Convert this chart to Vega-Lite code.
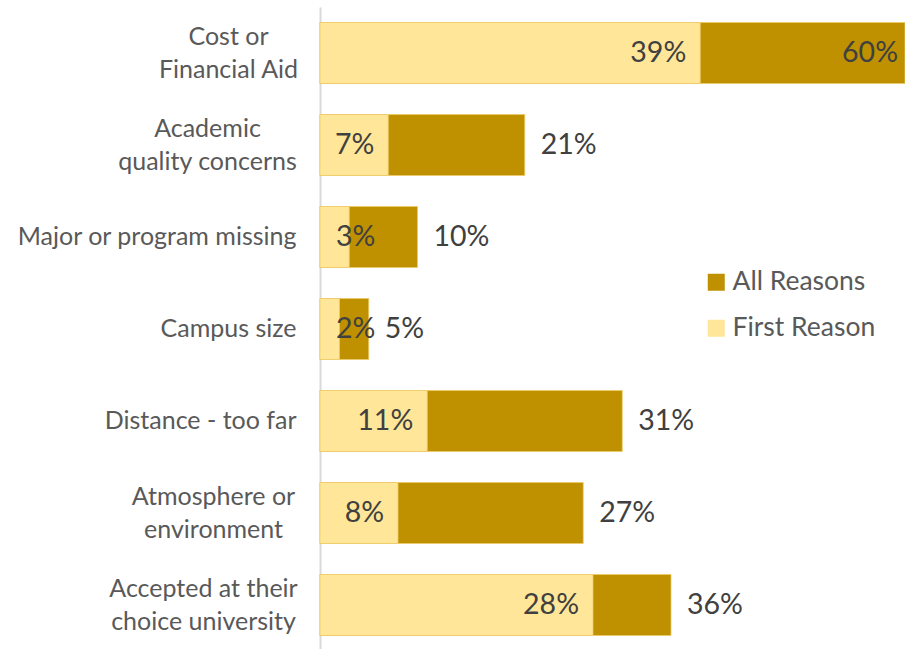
{
  "$schema": "https://vega.github.io/schema/vega-lite/v6.json",
  "width": 585,
  "height": 644,
  "autosize": {"type": "none"},
  "padding": {"left": 320, "top": 7, "right": 0, "bottom": 0},
  "background": "white",
  "config": {"view": {"stroke": null}, "font": "Lato"},
  "data": {
    "values": [
      {"category": "Cost or|Financial Aid", "series": "All Reasons", "value": 0.60},
      {"category": "Academic|quality concerns", "series": "All Reasons", "value": 0.21},
      {"category": "Major or program missing", "series": "All Reasons", "value": 0.10},
      {"category": "Campus size", "series": "All Reasons", "value": 0.05},
      {"category": "Distance - too far", "series": "All Reasons", "value": 0.31},
      {"category": "Atmosphere or|environment", "series": "All Reasons", "value": 0.27},
      {"category": "Accepted at their|choice university", "series": "All Reasons", "value": 0.36},
      {"category": "Cost or|Financial Aid", "series": "First Reason", "value": 0.39},
      {"category": "Academic|quality concerns", "series": "First Reason", "value": 0.07},
      {"category": "Major or program missing", "series": "First Reason", "value": 0.03},
      {"category": "Campus size", "series": "First Reason", "value": 0.02},
      {"category": "Distance - too far", "series": "First Reason", "value": 0.11},
      {"category": "Atmosphere or|environment", "series": "First Reason", "value": 0.08},
      {"category": "Accepted at their|choice university", "series": "First Reason", "value": 0.28}
    ]
  },
  "encoding": {
    "y": {
      "field": "category",
      "type": "nominal",
      "sort": null,
      "scale": {"paddingInner": 0.337, "paddingOuter": 0.1685},
      "axis": {
        "title": null,
        "labelExpr": "split(datum.value, '|')",
        "labelFontSize": 25,
        "labelColor": "#595959",
        "labelLineHeight": 33,
        "labelPadding": {
          "condition": [
            {"test": "datum.value == 'Cost or|Financial Aid'", "value": 92},
            {"test": "datum.value == 'Academic|quality concerns'", "value": 113},
            {"test": "datum.value == 'Atmosphere or|environment'", "value": 107},
            {"test": "datum.value == 'Accepted at their|choice university'", "value": 117}
          ],
          "value": 24
        },
        "labelAlign": {
          "condition": {"test": "indexof(datum.value, '|') >= 0", "value": "center"},
          "value": "right"
        },
        "labelOffset": {
          "condition": {"test": "indexof(datum.value, '|') >= 0", "value": -16.5},
          "value": 0
        },
        "ticks": false,
        "tickSize": 0,
        "domainColor": "#D9D9D9",
        "domainWidth": 2,
        "labelLimit": 400,
        "grid": false,
        "labelBaseline": "middle"
      }
    }
  },
  "layer": [
    {
      "mark": {"type": "bar", "stroke": "#EDCB66", "strokeWidth": 1, "strokeOpacity": 0.8},
      "encoding": {
        "x": {"field": "value", "type": "quantitative", "stack": null, "scale": {"domain": [0, 0.6], "nice": false}, "axis": null},
        "color": {
          "field": "series",
          "type": "nominal",
          "scale": {"domain": ["All Reasons", "First Reason"], "range": ["#BF9000", "#FFE699"]},
          "legend": {
            "title": null,
            "orient": "none",
            "legendX": 383,
            "legendY": 262,
            "symbolType": "square",
            "symbolSize": 289,
            "symbolStrokeWidth": 0,
            "labelFontSize": 26.5,
            "labelColor": "#595959",
            "rowPadding": 19,
            "labelOffset": 3,
            "padding": 0
          }
        }
      }
    },
    {
      "transform": [{"filter": "datum.series == 'All Reasons' && datum.value < 0.5"}],
      "mark": {"type": "text", "align": "left", "baseline": "middle", "dx": 16, "fontSize": 28.5, "color": "#404040"},
      "encoding": {
        "x": {"field": "value", "type": "quantitative"},
        "text": {"field": "value", "type": "quantitative", "format": ".0%"}
      }
    },
    {
      "transform": [{"filter": "datum.series == 'All Reasons' && datum.value >= 0.5"}],
      "mark": {"type": "text", "align": "right", "baseline": "middle", "dx": -7, "fontSize": 28.5, "color": "#404040"},
      "encoding": {
        "x": {"field": "value", "type": "quantitative"},
        "text": {"field": "value", "type": "quantitative", "format": ".0%"}
      }
    },
    {
      "transform": [{"filter": "datum.series == 'First Reason' && datum.value >= 0.05"}],
      "mark": {"type": "text", "align": "right", "baseline": "middle", "dx": -14, "fontSize": 28.5, "color": "#404040"},
      "encoding": {
        "x": {"field": "value", "type": "quantitative"},
        "text": {"field": "value", "type": "quantitative", "format": ".0%"}
      }
    },
    {
      "transform": [{"filter": "datum.series == 'First Reason' && datum.value < 0.05"}],
      "mark": {"type": "text", "align": "left", "baseline": "middle", "dx": 16, "fontSize": 28.5, "color": "#404040"},
      "encoding": {
        "x": {"datum": 0, "type": "quantitative"},
        "text": {"field": "value", "type": "quantitative", "format": ".0%"}
      }
    }
  ]
}
